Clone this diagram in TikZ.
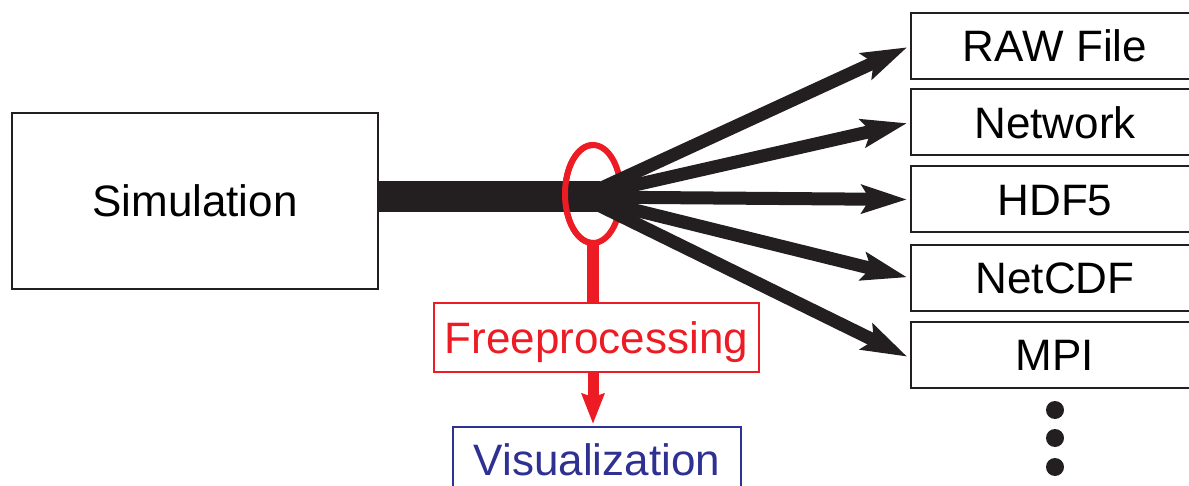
\documentclass[tikz,border=0pt]{standalone}
\usepackage{fontspec}
\setmainfont{Liberation Sans}
\usetikzlibrary{arrows.meta}
\definecolor{ink}{HTML}{231F20}
\definecolor{redc}{HTML}{ED1C24}
\definecolor{bluec}{HTML}{2E3192}
\begin{document}
\begin{tikzpicture}[x=1pt,y=-1pt,
  txt/.style={inner sep=0pt, text height=31.5pt, text depth=0pt, font=\fontsize{44}{52}\selectfont},
  box/.style={txt, draw=ink, line width=2pt, minimum height=66pt},
  outbox/.style={box, minimum width=288pt},
  fanarrow/.style={draw=ink, line width=13pt, -{Stealth[length=45pt,width=28pt,inset=8pt]}, shorten >=3pt},
  dot/.style={circle, fill=ink, inner sep=0pt, minimum size=18pt}]
\useasboundingbox (0,0) rectangle (1189,486);
\clip (0,0) rectangle (1189,486);
% nodes
\node[box, minimum width=366pt, minimum height=176pt] (sim) at (195,201) {Simulation};
\node[outbox] (raw) at (1055,46) {RAW File};
\node[outbox] (net) at (1055,122.5) {Network};
\node[outbox] (hdf) at (1055,199.5) {HDF5};
\node[outbox] (cdf) at (1055,278) {NetCDF};
\node[outbox] (mpi) at (1055,355) {MPI};
\node[dot] (d1) at (1055,410) {};
\node[dot] (d2) at (1055,438) {};
\node[dot] (d3) at (1055,467) {};
\node[txt, draw=redc, text=redc, line width=1.5pt, minimum width=325pt, minimum height=69pt] (free) at (596.5,337.5) {Freeprocessing};
\node[txt, draw=bluec, text=bluec, line width=2pt, minimum width=288pt, minimum height=65pt] (vis) at (597,459.5) {Visualization};
% coordinates
\coordinate (fan) at (582,197);
\coordinate (barend) at (600,197);
\coordinate (ringbot) at (593,243);
% ring (back half)
\draw[redc, line width=6pt] (593,194) ellipse [x radius=28, y radius=49];
% main bar and fan
\draw[ink, line width=31pt] (sim.east |- barend) -- (barend);
\draw[fanarrow] (fan) -- (raw.west);
\draw[fanarrow] (fan) -- (net.west);
\draw[fanarrow] (fan) -- (hdf.west);
\draw[fanarrow] (fan) -- (cdf.west);
\draw[fanarrow] (fan) -- ([yshift=-3pt]mpi.west);
% ring (front half)
\draw[redc, line width=6pt] (593,243) arc [start angle=90, end angle=270, x radius=28, y radius=49];
% red path
\draw[redc, line width=12pt] (ringbot) -- (free.north -| ringbot);
\draw[redc, line width=11pt, -{Stealth[length=30pt,width=22pt,inset=3pt]}, shorten >=2pt] (free.south -| ringbot) -- (vis.north -| ringbot);
\end{tikzpicture}
\end{document}
